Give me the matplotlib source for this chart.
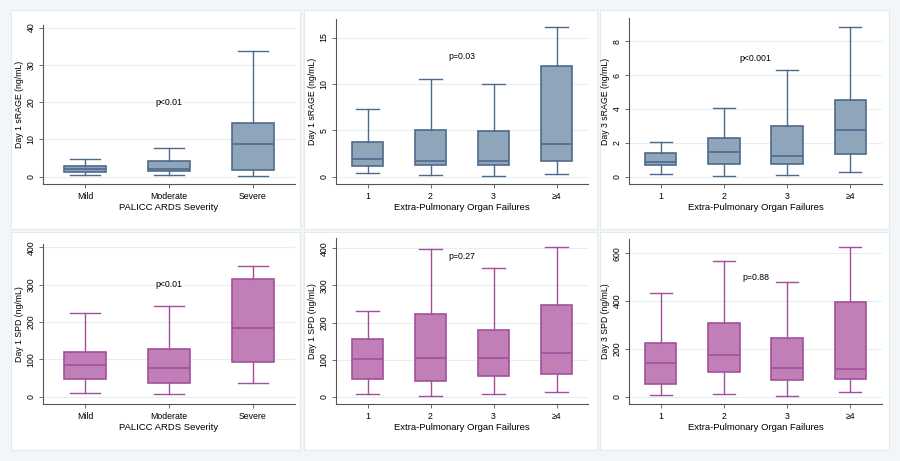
import matplotlib
matplotlib.use('Agg')
import matplotlib.pyplot as plt
from matplotlib.patches import Rectangle

plt.rcParams['font.family'] = ['Liberation Sans', 'DejaVu Sans']

# categories
sev_cats = ['Mild', 'Moderate', 'Severe']
epof_cats = ['1', '2', '3', '\u22654']

# five-number summaries per group: [whisker low, Q1, median, Q3, whisker high]
d1_srage_sev = [[0.5, 1.35, 2.05, 2.75, 4.8],
                [0.35, 1.5, 2.1, 4.2, 7.7],
                [0.2, 1.8, 8.75, 14.4, 33.6]]
d1_srage_epof = [[0.4, 1.1, 1.87, 3.7, 7.3],
                 [0.14, 1.22, 1.72, 5.06, 10.5],
                 [0.1, 1.22, 1.72, 4.96, 10.0],
                 [0.29, 1.72, 3.55, 11.9, 16.1]]
d3_srage_epof = [[0.18, 0.67, 0.85, 1.38, 2.05],
                 [0.03, 0.75, 1.46, 2.29, 4.08],
                 [0.08, 0.75, 1.22, 2.98, 6.29],
                 [0.26, 1.36, 2.74, 4.51, 8.85]]
d1_spd_sev = [[8.9, 47, 85, 120, 224],
              [6.2, 37, 77.5, 127, 243],
              [37, 92, 185, 316, 350]]
d1_spd_epof = [[8, 48.5, 101, 155.5, 232],
               [1.8, 43, 103, 222, 397],
               [8, 56.6, 103, 179, 348],
               [12.6, 60, 118, 248, 404]]
d3_spd_epof = [[7, 54, 139.5, 225, 435],
               [9.8, 102, 174, 308, 568],
               [4.2, 70, 118.6, 245.6, 480],
               [21, 75, 116, 395, 628]]

p_texts = ['p<0.01', 'p=0.03', 'p<0.001', 'p<0.01', 'p=0.27', 'p=0.88']

BLUE_FILL, BLUE_EDGE = '#8fa5b9', '#4e6a8e'
PINK_FILL, PINK_EDGE = '#c07fb7', '#a2509d'

W, H = 900, 461
fig = plt.figure(figsize=(9, 4.61), dpi=100, facecolor='#f3f6f8')

# white panel backgrounds
for x0, x1 in [(11, 300), (304, 597), (600, 889)]:
    for y0, y1 in [(10, 229), (232, 450)]:
        fig.patches.append(Rectangle((x0 / W, 1 - y1 / H), (x1 - x0) / W, (y1 - y0) / H,
                                     transform=fig.transFigure, facecolor='white',
                                     edgecolor='#e4eaee', lw=0.8, zorder=-5))

panels = [
    # data, cats, ylabel, xlabel, ylim, yticks, p-pos, colours, axes px (l, r, t, b)
    (d1_srage_sev, sev_cats, 'Day 1 sRAGE (ng/mL)', 'PALICC ARDS Severity',
     (-1.96, 40.7), [0, 10, 20, 30, 40], (2, 20), (BLUE_FILL, BLUE_EDGE), (43, 295, 25, 184)),
    (d1_srage_epof, epof_cats, 'Day 1 sRAGE (ng/mL)', 'Extra-Pulmonary Organ Failures',
     (-0.79, 17.0), [0, 5, 10, 15], (2.5, 13), (BLUE_FILL, BLUE_EDGE), (336, 588, 19, 184)),
    (d3_srage_epof, epof_cats, 'Day 3 sRAGE (ng/mL)', 'Extra-Pulmonary Organ Failures',
     (-0.43, 9.38), [0, 2, 4, 6, 8], (2.5, 7), (BLUE_FILL, BLUE_EDGE), (629, 882, 18, 184)),
    (d1_spd_sev, sev_cats, 'Day 1 SPD (ng/mL)', 'PALICC ARDS Severity',
     (-19.6, 409), [0, 100, 200, 300, 400], (2, 300), (PINK_FILL, PINK_EDGE), (43, 295, 244, 404)),
    (d1_spd_epof, epof_cats, 'Day 1 SPD (ng/mL)', 'Extra-Pulmonary Organ Failures',
     (-19.8, 428), [0, 100, 200, 300, 400], (2.5, 378), (PINK_FILL, PINK_EDGE), (336, 588, 238, 404)),
    (d3_spd_epof, epof_cats, 'Day 3 SPD (ng/mL)', 'Extra-Pulmonary Organ Failures',
     (-30.7, 660), [0, 200, 400, 600], (2.5, 497), (PINK_FILL, PINK_EDGE), (629, 882, 239, 404)),
]

for k, (data, cats, ylab, xlab, ylim, yticks, ppos, cols, box) in enumerate(panels):
    l, r, t, b = box
    ax = fig.add_axes([l / W, 1 - b / H, (r - l) / W, (b - t) / H])
    ax.set_facecolor('none')
    fill, edge = cols
    stats = [dict(whislo=d[0], q1=d[1], med=d[2], q3=d[3], whishi=d[4], label=c)
             for d, c in zip(data, cats)]
    pos = list(range(1, len(cats) + 1))
    ax.bxp(stats, positions=pos, widths=0.5, capwidths=0.35, showfliers=False,
           patch_artist=True,
           boxprops=dict(facecolor=fill, edgecolor=edge, lw=1.2),
           medianprops=dict(color=edge, lw=1.2),
           whiskerprops=dict(color=edge, lw=1.0),
           capprops=dict(color=edge, lw=1.0))
    ax.set_xlim(0.5, len(cats) + 0.5)
    ax.set_ylim(*ylim)
    ax.set_yticks(yticks)
    ax.set_yticklabels([str(v) for v in yticks], rotation=90, va='center')
    ax.set_xticks(pos)
    ax.set_xticklabels(cats)
    ax.tick_params(labelsize=6.3, length=3, width=0.6, color='#555555', pad=2.5)
    ax.yaxis.grid(True, color='#e6eef2', lw=0.8)
    ax.set_axisbelow(True)
    for s in ['top', 'right']:
        ax.spines[s].set_visible(False)
    for s in ['left', 'bottom']:
        ax.spines[s].set_color('#555555')
        ax.spines[s].set_linewidth(0.8)
    ax.set_ylabel(ylab, fontsize=6.3, labelpad=1.5)
    ax.set_xlabel(xlab, fontsize=6.8, labelpad=2)
    ax.text(ppos[0], ppos[1], p_texts[k], fontsize=6.3, ha='center', va='center')

fig.savefig('out.png', dpi=100, facecolor=fig.get_facecolor())
